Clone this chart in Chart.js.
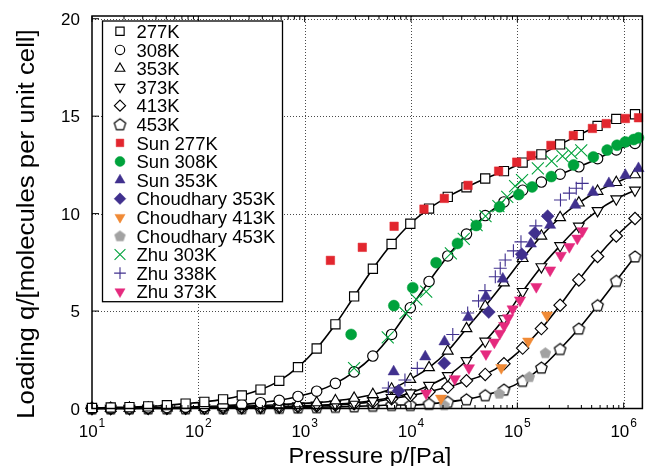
<!doctype html>
<html lang="en">
  <head>
    <title>Adsorption isotherms</title>
    <style>
      html,
      body {
        margin: 0;
        padding: 0;
        overflow: hidden;
        background: #ffffff;
      }
      canvas {
        display: block;
      }
    </style>
  </head>

  <body>
    <canvas id="isoChart" width="652" height="466"></canvas>

    <script src="https://cdn.jsdelivr.net/npm/chart.js@4/dist/chart.umd.min.js"></script>
    <script type="text/javascript">
      // Simulated pressures (Pa), shared by all six simulation curves
      const P_SIM = [
        10, 15, 22.5, 33.75, 50.63, 75.94, 113.9, 170.9, 256.3, 384.4, 576.7,
        865.0, 1297, 1946, 2919, 4379, 6568, 9853, 14780, 22170, 33250, 49880,
        74820, 112200, 168300, 252500, 378800, 568200, 852200, 1278000,
      ];

      // Simulated loadings (molecules per unit cell)
      const Q_277K = [
        0.03, 0.05, 0.07, 0.11, 0.17, 0.25, 0.34, 0.47, 0.67, 0.97, 1.42, 2.12,
        3.08, 4.32, 5.75, 7.17, 8.44, 9.48, 10.26, 10.86, 11.35, 11.8, 12.18,
        12.62, 13.04, 13.55, 14.03, 14.5, 14.86, 15.1,
      ];
      const Q_308K = [
        0.01, 0.02, 0.025, 0.035, 0.05, 0.07, 0.1, 0.14, 0.2, 0.3, 0.42, 0.62,
        0.89, 1.29, 1.88, 2.69, 3.8, 5.17, 6.52, 7.83, 8.95, 9.9, 10.6, 11.2,
        11.62, 12.02, 12.4, 12.82, 13.27, 13.6,
      ];
      const Q_353K = [
        0.01, 0.01, 0.015, 0.02, 0.03, 0.04, 0.06, 0.08, 0.11, 0.15, 0.2, 0.25,
        0.3, 0.4, 0.53, 0.72, 1.0, 1.5, 2.1, 2.95, 4.1, 5.25, 6.45, 7.7, 8.85,
        9.8, 10.55, 11.15, 11.6, 12.0,
      ];
      const Q_373K = [
        0.005, 0.01, 0.01, 0.015, 0.02, 0.025, 0.035, 0.045, 0.06, 0.08, 0.1,
        0.13, 0.17, 0.22, 0.29, 0.4, 0.56, 0.8, 1.18, 1.68, 2.45, 3.45, 4.6, 6.0,
        7.27, 8.35, 9.35, 10.15, 10.75, 11.2,
      ];
      const Q_413K = [
        0.003, 0.005, 0.007, 0.01, 0.013, 0.017, 0.022, 0.03, 0.04, 0.055, 0.07,
        0.1, 0.13, 0.18, 0.25, 0.33, 0.5, 0.66, 0.86, 1.1, 1.42, 1.75, 2.3, 3.1,
        4.1, 5.3, 6.6, 7.8, 8.85, 9.75,
      ];
      const Q_453K = [
        0.002, 0.003, 0.004, 0.005, 0.007, 0.009, 0.012, 0.016, 0.021, 0.028,
        0.037, 0.05, 0.065, 0.085, 0.11, 0.14, 0.18, 0.18, 0.24, 0.34, 0.47,
        0.68, 0.97, 1.42, 2.1, 3.05, 4.1, 5.3, 6.55, 7.8,
      ];

      // Experimental data
      const P_SUN_277 = [
        1746, 3483, 6935, 13240, 20570, 34360, 66680, 98700, 134800, 206900,
        336300, 508000, 685300, 1037000, 1378000,
      ];
      const Q_SUN_277 = [
        7.6, 8.27, 9.35, 10.23, 10.78, 11.45, 12.18, 12.64, 12.98, 13.5, 14.01,
        14.37, 14.62, 14.88, 14.92,
      ];
      const P_SUN_308 = [
        2735, 6900, 10380, 17220, 27370, 41100, 68050, 103100, 137700, 208600,
        338000, 518500, 699300, 866400, 1037000, 1239000, 1377000,
      ];
      const Q_SUN_308 = [
        3.8, 5.28, 6.2, 7.48, 8.47, 9.39, 10.35, 10.98, 11.37, 11.9, 12.5, 12.91,
        13.26, 13.51, 13.68, 13.8, 13.89,
      ];
      const P_SUN_353 = [
        6870, 13610, 20650, 34510, 50680, 72940, 109900, 134000, 203300, 350600,
        513300, 725900, 1037000, 1378000,
      ];
      const Q_SUN_353 = [
        1.89, 2.66, 3.43, 4.68, 5.75, 6.65, 7.87, 8.45, 9.41, 10.44, 11.1, 11.55,
        11.97, 12.32,
      ];
      const P_CHOU_353 = [7640, 20550, 53850, 109900, 145900, 192700];
      const Q_CHOU_353 = [0.91, 2.32, 4.95, 7.92, 9.0, 9.87];
      const P_CHOU_413 = [19140, 70630, 126500, 190100];
      const Q_CHOU_413 = [0.52, 2.09, 3.45, 4.79];
      const P_CHOU_453 = [20560, 67590, 129700, 183600];
      const Q_CHOU_453 = [0.18, 0.78, 1.63, 2.86];
      const P_ZHU_303 = [
        2917, 6040, 8870, 11220, 13900, 23710, 31330, 41370, 50200, 66370, 80400,
        95300, 110700, 155900, 210100, 265800, 322400, 399000,
      ];
      const Q_ZHU_303 = [
        2.07, 3.65, 4.9, 5.6, 6.0, 7.96, 8.7, 9.41, 9.87, 10.38, 10.86, 11.41,
        11.72, 12.32, 12.69, 12.95, 13.1, 13.25,
      ];
      const P_ZHU_338 = [
        6125, 8770, 11460, 24710, 34120, 43150, 49590, 62050, 69050, 76870,
        91830, 108200, 149200, 254500, 308500, 358200, 407300,
      ];
      const Q_ZHU_338 = [
        1.05, 1.46, 2.06, 3.8, 4.9, 5.52, 6.05, 6.76, 7.2, 7.62, 8.09, 8.55,
        9.37, 10.7, 11.05, 11.3, 11.55,
      ];
      const P_ZHU_373 = [
        13900, 25820, 35080, 50680, 60790, 68400, 75210, 81960, 90230, 105900,
        150700, 203300, 256300, 308500, 366600, 410300,
      ];
      const Q_ZHU_373 = [
        0.78, 1.52, 2.08, 2.8, 3.4, 3.85, 4.25, 4.65, 5.1, 5.56, 6.25, 7.1, 7.85,
        8.3, 8.73, 9.11,
      ];

      // Axis ticks
      const X_MAJOR = [10, 100, 1000, 10000, 100000, 1000000];
      const X_EXP = ["1", "2", "3", "4", "5", "6"];
      const X_MINOR_STEPS = [2, 3, 4, 5, 6, 7, 8, 9];
      const Y_TICKS = [0, 5, 10, 15, 20];

      const FONT = '"Liberation Sans", Arial, Helvetica, sans-serif';
      const RED = "#e2262e";
      const GREEN = "#00a23c";
      const PURPLE = "#40308e";
      const ORANGE = "#f08a36";
      const GREY = "#a2a2a2";
      const MAGENTA = "#e52a7e";

      // Pentagon marker, Chart.js has no built-in one
      function pentagon(fill, stroke) {
        const c = document.createElement("canvas");
        c.width = 15;
        c.height = 15;
        const g = c.getContext("2d");
        g.beginPath();
        for (let i = 0; i < 5; i++) {
          const a = -Math.PI / 2 + (i * 2 * Math.PI) / 5;
          g.lineTo(7.5 + 6 * Math.cos(a), 8 + 6 * Math.sin(a));
        }
        g.closePath();
        g.fillStyle = fill;
        g.fill();
        if (stroke) {
          g.strokeStyle = stroke;
          g.lineWidth = 1.2;
          g.stroke();
        }
        return c;
      }

      function points(P, Q) {
        return P.map((p, i) => ({ x: p, y: Q[i] }));
      }

      function simSet(label, Q, style, radius, rotation) {
        return {
          label: label,
          data: points(P_SIM, Q),
          showLine: true,
          borderColor: "#000",
          borderWidth: 1.6,
          cubicInterpolationMode: "monotone",
          pointStyle: style,
          pointRadius: radius,
          pointRotation: rotation || 0,
          pointBackgroundColor: "#fff",
          pointBorderColor: "#000",
          pointBorderWidth: 1.15,
          clip: false,
          order: 2,
        };
      }

      function expSet(label, P, Q, color, style, radius, rotation, stroke) {
        return {
          label: label,
          data: points(P, Q),
          showLine: false,
          pointStyle: style,
          pointRadius: radius,
          pointRotation: rotation || 0,
          pointBackgroundColor: color,
          pointBorderColor: color,
          pointBorderWidth: stroke || 0.5,
          clip: false,
          order: 1,
        };
      }

      const datasets = [
        simSet("277K", Q_277K, "rect", 6.5),
        simSet("308K", Q_308K, "circle", 5.2),
        simSet("353K", Q_353K, "triangle", 6.2),
        simSet("373K", Q_373K, "triangle", 6.2, 180),
        simSet("413K", Q_413K, "rectRot", 6.2),
        simSet("453K", Q_453K, pentagon("#fff", "#000"), 6),
        expSet("Sun 277K", P_SUN_277, Q_SUN_277, RED, "rect", 6),
        expSet("Sun 308K", P_SUN_308, Q_SUN_308, GREEN, "circle", 5.5),
        expSet("Sun 353K", P_SUN_353, Q_SUN_353, PURPLE, "triangle", 6.5),
        expSet("Choudhary 353K", P_CHOU_353, Q_CHOU_353, PURPLE, "rectRot", 6.5),
        expSet("Choudhary 413K", P_CHOU_413, Q_CHOU_413, ORANGE, "triangle", 6.5, 180),
        expSet("Choudhary 453K", P_CHOU_453, Q_CHOU_453, GREY, pentagon(GREY), 6),
        expSet("Zhu 303K", P_ZHU_303, Q_ZHU_303, GREEN, "crossRot", 8.5, 0, 1.1),
        expSet("Zhu 338K", P_ZHU_338, Q_ZHU_338, PURPLE, "cross", 6.5, 0, 1.1),
        expSet("Zhu 373K", P_ZHU_373, Q_ZHU_373, MAGENTA, "triangle", 6.5, 180),
      ];

      function stretchText(ctx, text, x, y, size, align, sx) {
        ctx.save();
        ctx.font = size + "px " + FONT;
        const w = ctx.measureText(text).width * sx;
        const left = align === "center" ? x - w / 2 : align === "right" ? x - w : x;
        ctx.translate(left, y);
        ctx.scale(sx, 1);
        ctx.textAlign = "left";
        ctx.fillText(text, 0, 0);
        ctx.restore();
        return w;
      }

      function seg(ctx, x1, y1, x2, y2) {
        ctx.beginPath();
        ctx.moveTo(x1, y1);
        ctx.lineTo(x2, y2);
        ctx.stroke();
      }

      // Gnuplot-like frame: dotted grid, inward ticks, key box, labels
      const framePlugin = {
        id: "frame",
        beforeDatasetsDraw(chart) {
          const { ctx, chartArea: a, scales } = chart;
          ctx.save();
          ctx.strokeStyle = "#4a4a4a";
          ctx.lineWidth = 1;
          ctx.setLineDash([1, 2]);
          X_MAJOR.slice(1).forEach((v) => {
            const px = Math.round(scales.x.getPixelForValue(v)) + 0.5;
            seg(ctx, px, a.top, px, a.bottom);
          });
          Y_TICKS.slice(1).forEach((v) => {
            const py = Math.round(scales.y.getPixelForValue(v)) + 0.5;
            seg(ctx, a.left, py, a.right, py);
          });
          ctx.restore();
        },
        afterDatasetsDraw(chart) {
          const { ctx, chartArea: a, scales } = chart;
          const xs = scales.x;
          const ys = scales.y;
          ctx.save();
          ctx.strokeStyle = "#000";
          ctx.fillStyle = "#000";

          // ticks
          ctx.lineWidth = 1;
          X_MAJOR.forEach((v) => {
            const px = xs.getPixelForValue(v);
            seg(ctx, px, a.bottom, px, a.bottom - 6);
            seg(ctx, px, a.top, px, a.top + 6);
            X_MINOR_STEPS.forEach((m) => {
              const mv = v * m;
              if (mv > xs.max) return;
              const mx = xs.getPixelForValue(mv);
              seg(ctx, mx, a.bottom, mx, a.bottom - 3.5);
              seg(ctx, mx, a.top, mx, a.top + 3.5);
            });
          });
          Y_TICKS.forEach((v) => {
            const py = ys.getPixelForValue(v);
            seg(ctx, a.left, py, a.left + 7, py);
          });

          // border
          ctx.lineWidth = 1.5;
          ctx.strokeRect(a.left, a.top, a.right - a.left, a.bottom - a.top);

          // tick labels
          ctx.textBaseline = "alphabetic";
          Y_TICKS.forEach((v) => {
            const py = ys.getPixelForValue(v);
            stretchText(ctx, String(v), 80, py + 6, 17, "right", 1);
          });
          X_MAJOR.forEach((v, i) => {
            const px = xs.getPixelForValue(v);
            ctx.font = "17px " + FONT;
            const wb = ctx.measureText("10").width;
            ctx.font = "12px " + FONT;
            const we = ctx.measureText(X_EXP[i]).width;
            const left = px - (wb + we + 1) / 2;
            stretchText(ctx, "10", left, 436.5, 17, "left", 1);
            stretchText(ctx, X_EXP[i], left + wb + 1, 426.5, 12, "left", 1);
          });

          // axis titles
          stretchText(ctx, "Pressure p/[Pa]", 370, 463, 22.5, "center", 1.05);
          ctx.save();
          ctx.translate(34, 224);
          ctx.rotate(-Math.PI / 2);
          stretchText(ctx, "Loading q/[molecules per unit cell]", 0, 0, 23, "center", 1.12);
          ctx.restore();

          // key
          const kx1 = 102.5;
          const kx2 = 282.5;
          const ky1 = 21;
          const ky2 = 301.7;
          ctx.fillStyle = "#fff";
          ctx.fillRect(kx1, ky1, kx2 - kx1, ky2 - ky1);
          ctx.lineWidth = 1.3;
          ctx.strokeRect(kx1, ky1, kx2 - kx1, ky2 - ky1);
          chart.data.datasets.forEach((ds, i) => {
            const cy = 31.3 + i * 18.6;
            ctx.save();
            ctx.fillStyle = ds.pointBackgroundColor;
            ctx.strokeStyle = ds.pointBorderColor;
            ctx.lineWidth = ds.pointBorderWidth;
            Chart.helpers.drawPoint(
              ctx,
              {
                pointStyle: ds.pointStyle,
                radius: ds.pointRadius * 0.9,
                rotation: ds.pointRotation,
                borderWidth: ds.pointBorderWidth,
              },
              120,
              cy,
            );
            ctx.restore();
            ctx.fillStyle = "#000";
            stretchText(ctx, ds.label, 136.5, cy + 6.6, 18.5, "left", 1);
          });
          ctx.restore();
        },
      };

      const ctx = document.getElementById("isoChart").getContext("2d");
      const isoChart = new Chart(ctx, {
        type: "scatter",
        data: { datasets: datasets },
        options: {
          responsive: false,
          animation: false,
          events: [],
          layout: { padding: { left: 92, right: 3, top: 16, bottom: 57.5 } },
          plugins: {
            legend: { display: false },
            tooltip: { enabled: false },
          },
          scales: {
            x: { type: "logarithmic", min: 10, max: 1500000, display: false },
            y: { type: "linear", min: 0, max: 20.14, display: false },
          },
        },
        plugins: [framePlugin],
      });
    </script>
  </body>
</html>
